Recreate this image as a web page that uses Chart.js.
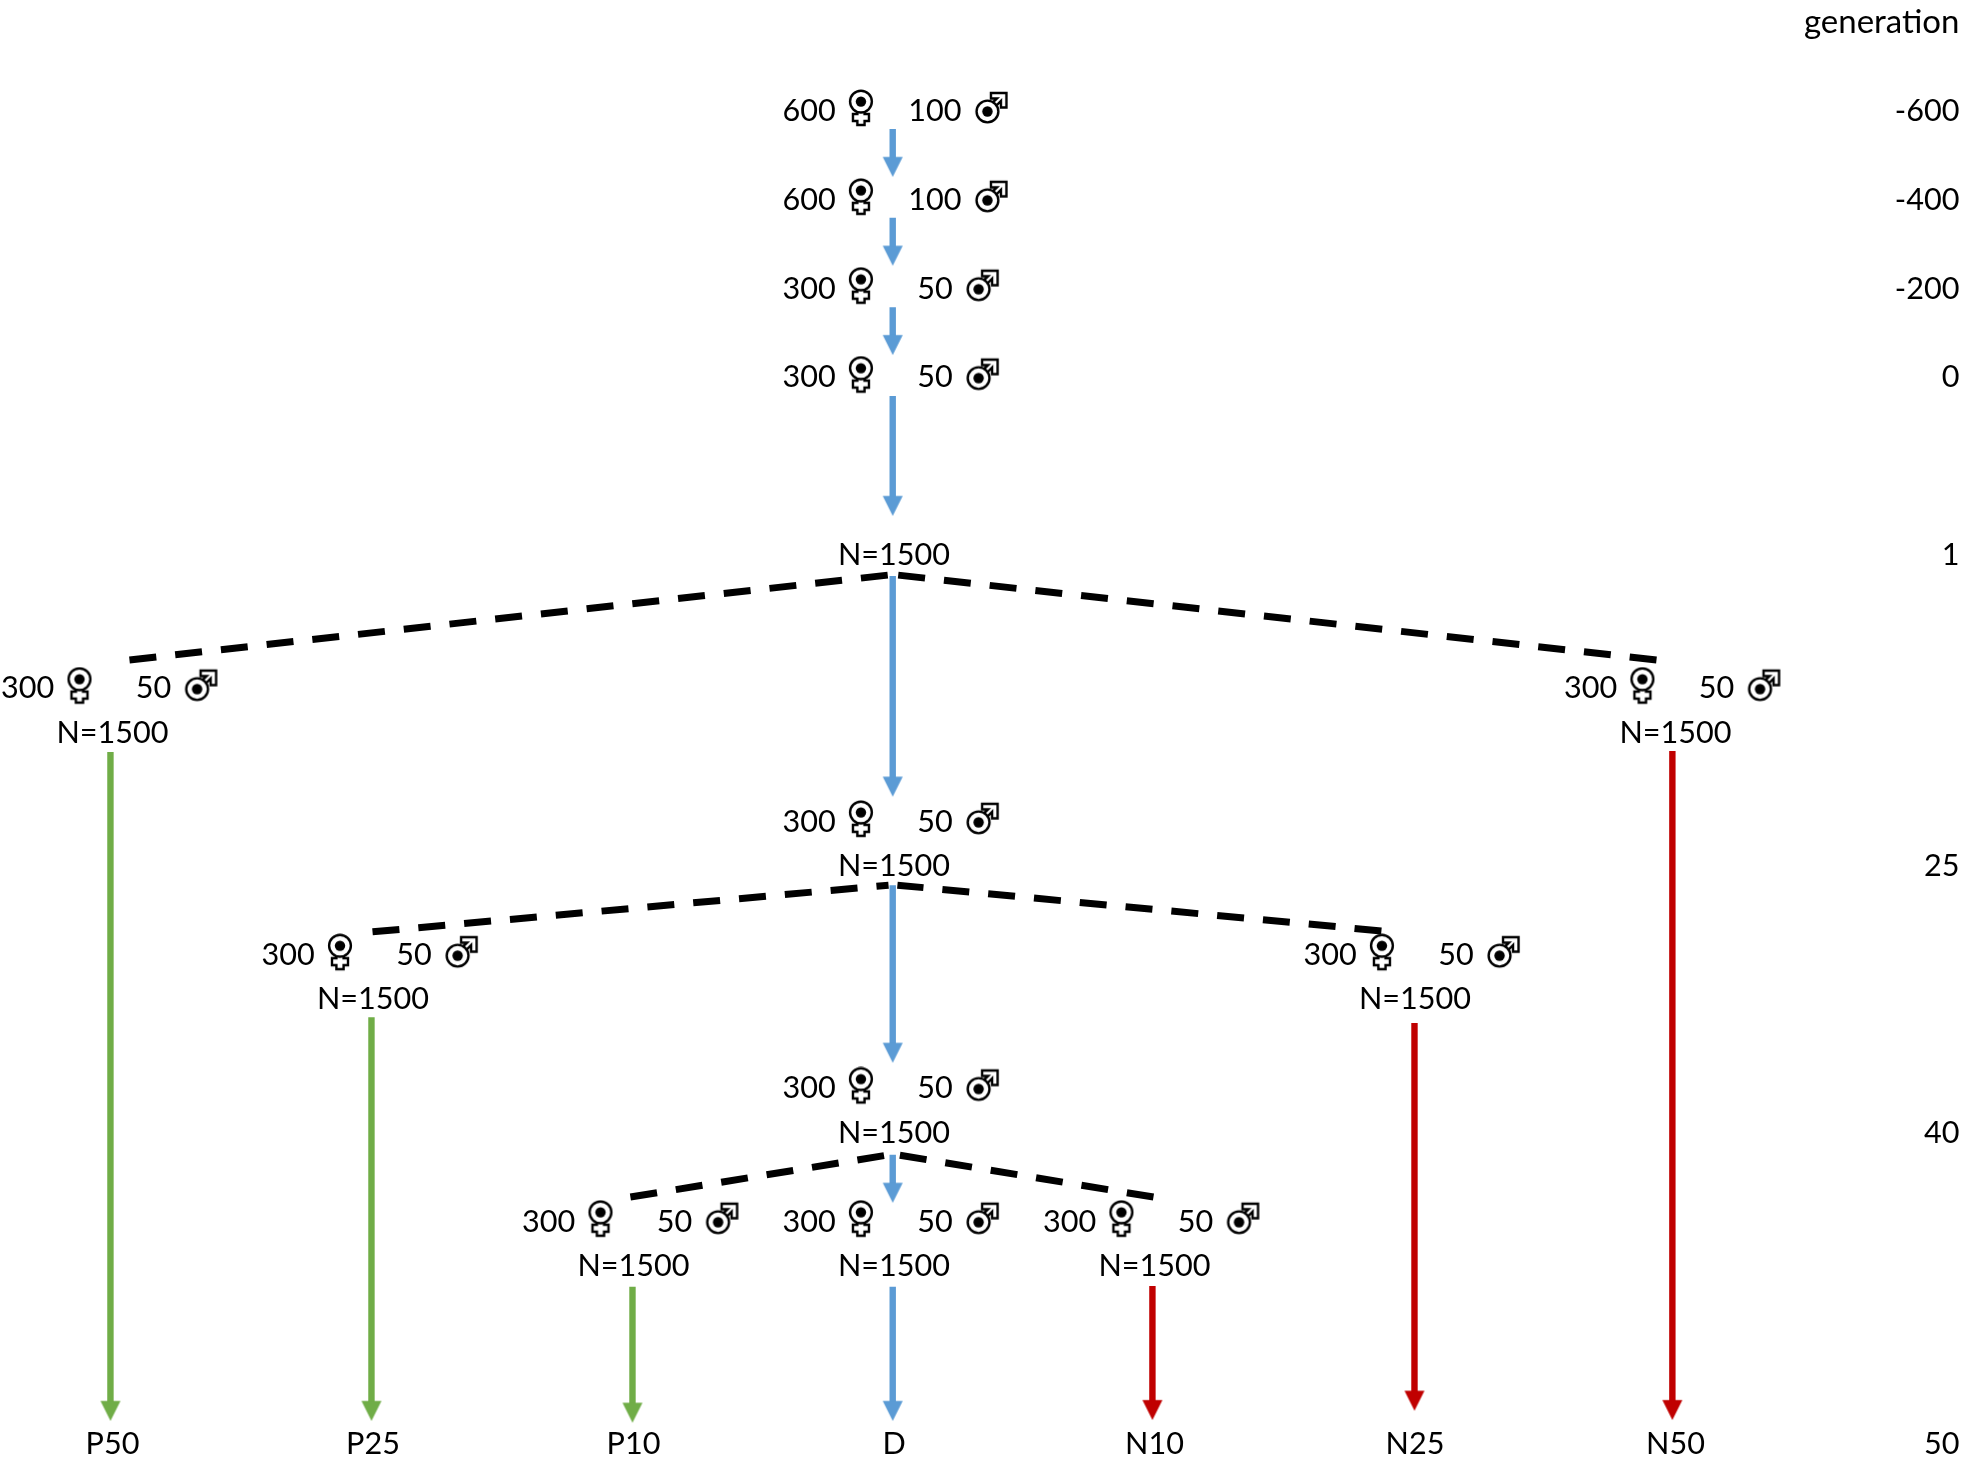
<!DOCTYPE html>
<html lang="en">
<head>
    <meta charset="UTF-8">
    <title>Selection lines</title>
    <script src="https://cdn.jsdelivr.net/npm/chart.js"></script>
    <style>
        body { margin: 0; background: #fff; }
        canvas { display: block; }
    </style>
</head>
<body>
    <canvas id="grafico" width="1961" height="1466"></canvas>

    <script>
        // x axis = selection line (lane), y axis = rows of the diagram
        const lineLabels = ['P50', 'P25', 'P10', 'D', 'N10', 'N25', 'N50'];

        const genLabels = ['generation', '-600', '-400', '-200', '0', '1', '25', '40', '50'];
        const genRows = [-2, 0, 2, 4, 6, 10, 17, 23, 30];

        const nodeLane = [3, 3, 3, 3, 0, 6, 3, 1, 5, 3, 2, 3, 4];
        const nodeRow = [0, 2, 4, 6, 13, 13, 16, 19, 19, 22, 25, 25, 25];
        const females = [600, 600, 300, 300, 300, 300, 300, 300, 300, 300, 300, 300, 300];
        const males = [100, 100, 50, 50, 50, 50, 50, 50, 50, 50, 50, 50, 50];

        const popLane = [3, 0, 6, 3, 1, 5, 3, 2, 3, 4];
        const popRow = [10, 14, 14, 17, 20, 20, 23, 26, 26, 26];
        const popSize = [1500, 1500, 1500, 1500, 1500, 1500, 1500, 1500, 1500, 1500];

        const arrowLine = ['D', 'D', 'D', 'D', 'D', 'D', 'D', 'D', 'P', 'P', 'P', 'N', 'N', 'N'];
        const arrowLane = [2.995, 2.995, 2.995, 2.995, 2.995, 2.995, 2.995, 2.995, -0.008, 0.994, 1.996, 3.992, 4.998, 5.988];
        const arrowFrom = [0.45, 2.45, 4.46, 6.46, 10.51, 17.47, 23.54, 26.51, 14.47, 20.44, 26.51, 26.49, 20.57, 14.45];
        const arrowTo = [1.53, 3.53, 5.54, 9.16, 15.48, 21.47, 24.62, 29.53, 29.53, 29.53, 29.57, 29.51, 29.30, 29.51];

        const splitLaneA = [2.979, 3.013, 2.979, 3.013, 2.979, 3.013];
        const splitRowA = [10.49, 10.49, 17.47, 17.47, 23.54, 23.54];
        const splitLaneB = [0.065, 5.927, 0.998, 4.871, 1.988, 3.996];
        const splitRowB = [12.40, 12.40, 18.52, 18.50, 24.49, 24.49];

        const cores = { D: '#5B9BD5', P: '#70AD47', N: '#C00000' };
        const fonte = '30.6px Lato';
        const fonteTitulo = '33px Lato';

        // offsets of the count labels around the centre of a node, in lanes
        const offFemaleText = -0.326;
        const offFemaleIcon = -0.127;
        const offMaleText = 0.157;
        const offMaleIcon = { 100: 0.372, 50: 0.338 };

        const novoIcone = (w, h, desenho) => {
            const c = document.createElement('canvas');
            c.width = w;
            c.height = h;
            desenho(c.getContext('2d'));
            return c;
        };

        const poligono = (g, pts) => {
            g.beginPath();
            pts.forEach((p, i) => (i ? g.lineTo(p[0], p[1]) : g.moveTo(p[0], p[1])));
            g.closePath();
            g.fill();
            g.stroke();
        };

        const circulo = (g, cx, cy) => {
            g.fillStyle = '#fff';
            g.beginPath();
            g.arc(cx, cy, 10.9, 0, Math.PI * 2);
            g.fill();
            g.stroke();
            g.fillStyle = '#000';
            g.beginPath();
            g.arc(cx, cy, 5.2, 0, Math.PI * 2);
            g.fill();
        };

        const iconeFemea = novoIcone(40, 40, g => {
            g.translate(0, -1);
            g.strokeStyle = '#000';
            g.lineWidth = 2.4;
            g.fillStyle = '#fff';
            poligono(g, [[16.4, 20], [16.4, 26], [12, 26], [12, 33], [16.4, 33], [16.4, 37],
                [23.6, 37], [23.6, 33], [28, 33], [28, 26], [23.6, 26], [23.6, 20]]);
            circulo(g, 20, 13.6);
        });

        const iconeMacho = novoIcone(44, 44, g => {
            g.translate(0, -1);
            g.strokeStyle = '#000';
            g.lineWidth = 2.4;
            g.fillStyle = '#fff';
            poligono(g, [[22, 7], [37.5, 7], [37.5, 21.5], [32, 21.5], [32, 15], [24, 23], [20.5, 19.5], [28, 12.5], [22, 12.5]]);
            circulo(g, 18.5, 25.5);
        });

        // arrow head with its tip 13.3px under the centre of the image, that is 0.3 rows
        const ponta = cor => novoIcone(40, 40, g => {
            g.fillStyle = cor;
            g.beginPath();
            g.moveTo(10, 13.3);
            g.lineTo(30, 13.3);
            g.lineTo(20, 33.3);
            g.closePath();
            g.fill();
        });
        const pontas = { D: ponta(cores.D), P: ponta(cores.P), N: ponta(cores.N) };

        const datasets = [];

        splitLaneA.forEach((_, i) => {
            // dashes start from the outer end of each branch
            datasets.push({
                data: [{ x: splitLaneB[i], y: splitRowB[i] }, { x: splitLaneA[i], y: splitRowA[i] }],
                showLine: true,
                borderColor: '#000',
                borderWidth: 7,
                borderDash: [27, 19],
                pointRadius: 0
            });
        });

        arrowLine.forEach((linha, i) => {
            datasets.push({
                data: [{ x: arrowLane[i], y: arrowFrom[i] }, { x: arrowLane[i], y: arrowTo[i] - 0.3 }],
                showLine: true,
                borderColor: cores[linha],
                borderWidth: 6.4,
                pointRadius: [0, 5],
                pointStyle: pontas[linha]
            });
        });

        datasets.push({
            data: nodeLane.map((l, i) => ({ x: l + offFemaleIcon, y: nodeRow[i] })),
            pointStyle: iconeFemea,
            pointRadius: 5
        });
        datasets.push({
            data: nodeLane.map((l, i) => ({ x: l + offMaleIcon[males[i]], y: nodeRow[i] })),
            pointStyle: iconeMacho,
            pointRadius: 5
        });

        const textos = {
            id: 'textos',
            afterDatasetsDraw(chart) {
                const { ctx, scales: { x, y } } = chart;
                const escreve = (t, lane, row, align) => {
                    ctx.textAlign = align || 'center';
                    ctx.fillText(String(t), x.getPixelForValue(lane), y.getPixelForValue(row) + 2);
                };
                ctx.save();
                ctx.font = fonte;
                ctx.fillStyle = '#000';
                ctx.textBaseline = 'middle';
                nodeLane.forEach((l, i) => {
                    escreve(females[i], l + offFemaleText, nodeRow[i]);
                    escreve(males[i], l + offMaleText, nodeRow[i]);
                });
                popLane.forEach((l, i) => escreve('N=' + popSize[i], l, popRow[i]));
                lineLabels.forEach((t, i) => escreve(t, i, 30));
                genLabels.forEach((t, i) => {
                    ctx.font = i === 0 ? fonteTitulo : fonte;
                    escreve(t, 7.09, genRows[i], 'right');
                });
                ctx.restore();
            }
        };

        new Chart(document.getElementById('grafico'), {
            type: 'scatter',
            data: { datasets },
            plugins: [textos],
            options: {
                responsive: false,
                animation: false,
                layout: { padding: 0, autoPadding: false },
                plugins: { legend: { display: false }, tooltip: { enabled: false } },
                scales: {
                    x: { type: 'linear', display: false, min: -0.432, max: 7.096 },
                    y: { type: 'linear', display: false, reverse: true, min: -2.453, max: 30.543 }
                }
            }
        });
    </script>
</body>
</html>
